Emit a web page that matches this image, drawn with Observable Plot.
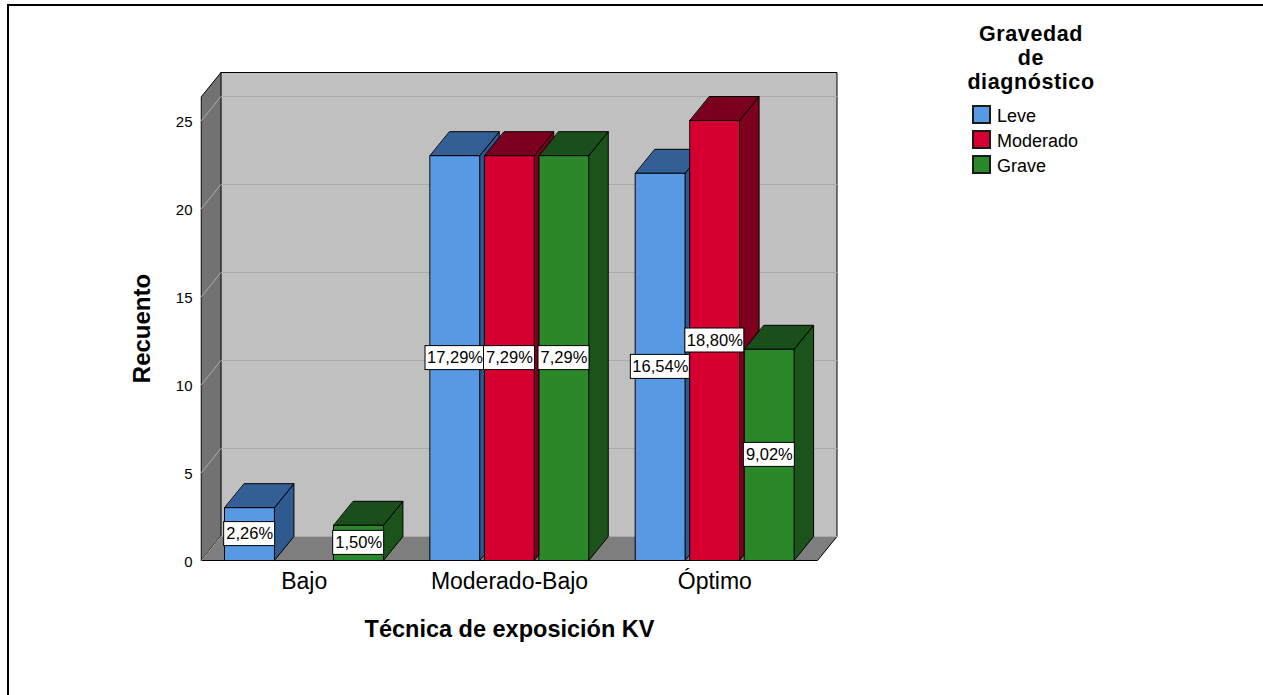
<!DOCTYPE html>
<html>
<head>
<meta charset="utf-8">
<script src="https://cdn.jsdelivr.net/npm/d3@7"></script>
<script src="https://cdn.jsdelivr.net/npm/@observablehq/plot@0.6"></script>
<style>
  html, body { margin: 0; padding: 0; background: #fff; }
  #wrap { position: relative; width: 1263px; height: 695px; overflow: hidden; font-family: "Liberation Sans", Arial, sans-serif; }
  #frame { position: absolute; left: 7px; top: 4px; right: 0; bottom: 0; border-left: 2px solid #000; border-top: 2px solid #000; pointer-events: none; }
  #chart { position: absolute; left: 0; top: 0; }
  #legend { position: absolute; left: 0; top: 0; width: 1263px; height: 695px; pointer-events: none; }
  .ltitle { position: absolute; left: 931px; width: 200px; text-align: center; font-weight: bold; font-size: 21.5px; letter-spacing: 0.6px; line-height: 24px; height: 24px; color: #000; }
  .litem { position: absolute; left: 972px; height: 19px; font-size: 18px; line-height: 19px; color: #000; white-space: nowrap; }
  .lsw { position: absolute; left: 0; top: 0; width: 15px; height: 15px; border: 2px solid #1a1a1a; }
  .ltx { position: absolute; left: 25px; top: 2px; }
</style>
</head>
<body>
<div id="wrap">
  <div id="chart"></div>
  <div id="legend"></div>
  <div id="frame"></div>
</div>
<script>
// ---- Data ----
const categories = ["Bajo", "Moderado-Bajo", "Óptimo"];
const series = ["Leve", "Moderado", "Grave"];
const leve = [3, 23, 22];
const moderado = [0, 23, 25];
const grave = [2, 23, 12];
const leveLabels = ["2,26%", "17,29%", "16,54%"];
const moderadoLabels = ["", "7,29%", "18,80%"];
const graveLabels = ["1,50%", "7,29%", "9,02%"];
const yTicks = [0, 5, 10, 15, 20, 25];
const legendTitle = ["Gravedad", "de", "diagnóstico"];
const xTitle = "Técnica de exposición KV";
const yTitle = "Recuento";

// ---- Styles ----
const colors = {
  Leve:     { front: "#5799e2", top: "#335e96", side: "#2e5a8f" },
  Moderado: { front: "#d5002f", top: "#7b0020", side: "#7e001e" },
  Grave:    { front: "#2a882a", top: "#1a4e1a", side: "#1b531b" }
};
const W = 1263, H = 695;
const X0 = 201, X1 = 817, Y0 = 560, Y25 = 120;
const pxX = (X1 - X0) / categories.length;
const pxY = (Y0 - Y25) / 25;
const DX = 19.5 / pxX, DY = 24 / pxY;          // 3D depth offset
const WALL_TOP = (Y0 - 96) / pxY;               // top of walls (front value)
const STEP = 54.5 / pxX, BW = 49.5 / pxX;       // bar spacing & width
const BH = 24 / pxY;                            // label box height

const valuesBy = { Leve: leve, Moderado: moderado, Grave: grave };
const labelsBy = { Leve: leveLabels, Moderado: moderadoLabels, Grave: graveLabels };

// ---- Build polygons ----
const polys = [];
const nC = categories.length;
polys.push({ id: "back", fill: "#c0c0c0", pts: [[DX, DY], [nC + DX, DY], [nC + DX, WALL_TOP + DY], [DX, WALL_TOP + DY]] });
polys.push({ id: "side", fill: "#727272", pts: [[0, 0], [DX, DY], [DX, WALL_TOP + DY], [0, WALL_TOP]] });
polys.push({ id: "floor", fill: "#7e7e7e", pts: [[0, 0], [nC, 0], [nC + DX, DY], [DX, DY]] });

const bars = [];
const labels = [];
categories.forEach((c, i) => {
  series.forEach((s, k) => {
    const v = valuesBy[s][i];
    const cx = i + 0.5 + (k - 1) * STEP;
    const x1 = cx - BW / 2, x2 = cx + BW / 2;
    if (v > 0) {
      const col = colors[s];
      bars.push({ id: `${c}-${s}-side`, fill: col.side, pts: [[x2, 0], [x2 + DX, DY], [x2 + DX, v + DY], [x2, v]] });
      bars.push({ id: `${c}-${s}-top`, fill: col.top, pts: [[x1, v], [x2, v], [x2 + DX, v + DY], [x1 + DX, v + DY]] });
      bars.push({ id: `${c}-${s}-front`, fill: col.front, pts: [[x1, 0], [x2, 0], [x2, v], [x1, v]] });
    }
    const lab = labelsBy[s][i];
    if (lab) labels.push({ cx, v, label: lab, w: (8 * lab.length + 11) / pxX });
  });
});

const toRows = (ps) => ps.flatMap(p => p.pts.map(([x, y]) => ({ id: p.id, fill: p.fill, x, y })));
const wallRows = toRows(polys);
const barRows = toRows(bars);
const gridRows = yTicks.flatMap(t => [[0, t], [DX, t + DY], [nC + DX, t + DY]].map(([x, y]) => ({ t, x, y })));

const chart = Plot.plot({
  width: W,
  height: H,
  margin: 0,
  style: { fontFamily: "'Liberation Sans', Arial, sans-serif", background: "transparent", overflow: "visible" },
  x: { type: "linear", domain: [0, nC], range: [X0, X1], axis: null },
  y: { type: "linear", domain: [0, 25], range: [Y0, Y25], axis: null },
  color: { type: "identity" },
  marks: [
    Plot.line(wallRows, { x: "x", y: "y", z: "id", fill: "fill", stroke: "#000", strokeWidth: 1, curve: "linear-closed", strokeLinejoin: "miter" }),
    Plot.line(gridRows, { x: "x", y: "y", z: "t", stroke: "#aaaaaa", strokeWidth: 1 }),
    Plot.line(barRows, { x: "x", y: "y", z: "id", fill: "fill", stroke: "#000", strokeWidth: 1, curve: "linear-closed", strokeLinejoin: "miter" }),
    Plot.rect(labels, { x1: d => d.cx - d.w / 2, x2: d => d.cx + d.w / 2, y1: d => d.v / 2 - BH / 2, y2: d => d.v / 2 + BH / 2, fill: "#fff", stroke: "#000", strokeWidth: 1 }),
    Plot.text(labels, { x: "cx", y: d => d.v / 2, text: "label", fontSize: 16.5, fill: "#000" }),
    Plot.text(yTicks, { x: () => 0, y: d => d, text: d => String(d), dx: -9, dy: 2, textAnchor: "end", fontSize: 15, fill: "#000" }),
    Plot.text(categories, { x: (d, i) => i + 0.5, y: () => 0, text: d => d, dy: 21, fontSize: 23, fill: "#000" }),
    Plot.text([xTitle], { x: () => nC / 2, y: () => 0, text: d => d, dy: 69, fontSize: 23.5, fontWeight: "bold", fill: "#000" }),
    Plot.text([yTitle], { x: () => 0, y: () => WALL_TOP / 2, text: d => d, dx: -59, rotate: -90, fontSize: 24, fontWeight: "bold", fill: "#000" })
  ]
});
document.getElementById("chart").appendChild(chart);

// ---- Legend ----
const lg = document.getElementById("legend");
legendTitle.forEach((line, j) => {
  const t = document.createElement("div");
  t.className = "ltitle";
  t.style.top = (22 + 24 * j) + "px";
  t.textContent = line;
  lg.appendChild(t);
});
series.forEach((s, k) => {
  const it = document.createElement("div");
  it.className = "litem";
  it.style.top = (105 + 25 * k) + "px";
  const sw = document.createElement("div");
  sw.className = "lsw";
  sw.style.background = colors[s].front;
  const tx = document.createElement("div");
  tx.className = "ltx";
  tx.textContent = s;
  it.appendChild(sw);
  it.appendChild(tx);
  lg.appendChild(it);
});
</script>
</body>
</html>
